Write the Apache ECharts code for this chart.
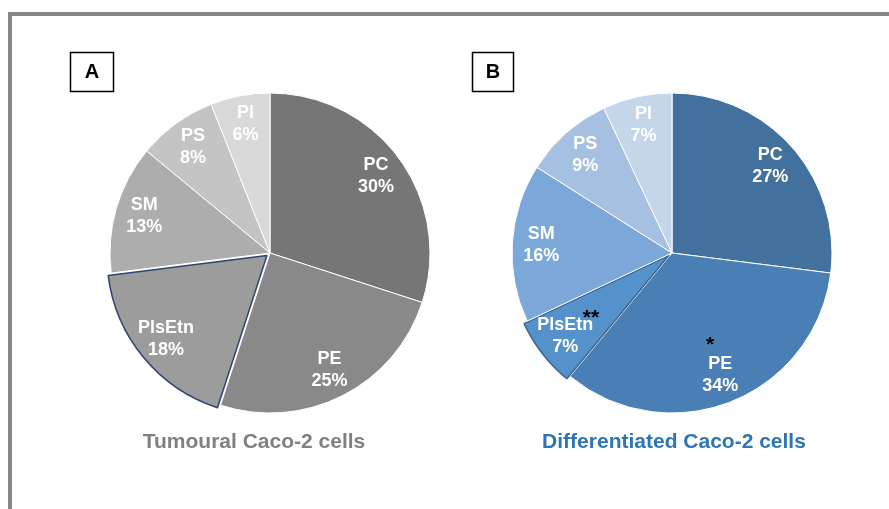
<!DOCTYPE html>
<html><head><meta charset="utf-8">
<script src="https://cdn.jsdelivr.net/npm/echarts@6/dist/echarts.min.js"></script>
<style>html,body{margin:0;padding:0;background:#fff}#c{width:889px;height:509px}</style>
</head><body><div id="c"></div>
<script>
const categories = ['PC', 'PE', 'PlsEtn', 'SM', 'PS', 'PI'];
const tumouralValues = [30, 25, 18, 13, 8, 6];
const differentiatedValues = [27, 34, 7, 16, 9, 7];
const greyColors = ['#767676', '#898989', '#9c9c9c', '#adadad', '#c4c4c4', '#d9d9d9'];
const blueColors = ['#41719c', '#4a7fb5', '#5592cc', '#7ba7d9', '#a6c0e2', '#c5d5ea'];
const panelTitles = ['Tumoural Caco-2 cells', 'Differentiated Caco-2 cells'];
const panelLetters = ['A', 'B'];
const highlighted = 'PlsEtn';

const FONT = '"Liberation Sans", Arial, sans-serif';
const R = 160;
const centers = [[270, 253], [672, 253]];
const outlineColors = ['#2f4470', '#3a6696'];

function baseData(values, colors, outline) {
  return categories.map((name, i) => ({
    name, value: values[i],
    selected: name === highlighted,
    itemStyle: name === highlighted
      ? { color: colors[i], borderColor: outline, borderWidth: 1.5 }
      : { color: colors[i], borderColor: '#ffffff', borderWidth: 1 }
  }));
}
function labelData(values) {
  return categories.map((name, i) => ({ name, value: values[i], selected: name === highlighted }));
}
function pieSeries(values, colors, center, outline) {
  return [{
    type: 'pie', center, radius: [0, R], startAngle: 90, clockwise: true,
    selectedMode: 'single', selectedOffset: 4, animation: false, silent: true,
    label: { show: false }, labelLine: { show: false },
    emphasis: { disabled: true },
    data: baseData(values, colors, outline)
  }, {
    type: 'pie', center, radius: [R * 0.6, R], startAngle: 90, clockwise: true,
    selectedMode: 'single', selectedOffset: 4, animation: false, silent: true,
    itemStyle: { color: 'rgba(0,0,0,0)', borderWidth: 0 },
    emphasis: { disabled: true },
    labelLine: { show: false },
    label: {
      show: true, position: 'inside', color: '#ffffff', fontFamily: FONT,
      fontWeight: 'bold', fontSize: 18, lineHeight: 22,
      formatter: p => p.name + '\n' + p.value + '%'
    },
    data: labelData(values)
  }];
}

const graphics = [
  { type: 'rect', shape: { x: 10, y: 14, width: 900, height: 520 },
    style: { fill: 'none', stroke: '#878787', lineWidth: 4 } },
  { type: 'rect', shape: { x: 70.5, y: 52.5, width: 43, height: 39 },
    style: { fill: '#fff', stroke: '#000', lineWidth: 1.5 } },
  { type: 'text', x: 92, y: 72, style: { text: panelLetters[0], font: 'bold 20px ' + FONT, fill: '#000', align: 'center', verticalAlign: 'middle' } },
  { type: 'rect', shape: { x: 472.5, y: 52.5, width: 41, height: 39 },
    style: { fill: '#fff', stroke: '#000', lineWidth: 1.5 } },
  { type: 'text', x: 493, y: 72, style: { text: panelLetters[1], font: 'bold 20px ' + FONT, fill: '#000', align: 'center', verticalAlign: 'middle' } },
  { type: 'text', x: 254, y: 442, style: { text: panelTitles[0], font: 'bold 21px ' + FONT, fill: '#808080', align: 'center', verticalAlign: 'middle' } },
  { type: 'text', x: 674, y: 442, style: { text: panelTitles[1], font: 'bold 21px ' + FONT, fill: '#2e75b6', align: 'center', verticalAlign: 'middle' } },
  { type: 'text', x: 591, y: 318, z: 100, style: { text: '**', font: 'bold 21px ' + FONT, fill: '#000', align: 'center', verticalAlign: 'middle' } },
  { type: 'text', x: 710, y: 345, z: 100, style: { text: '*', font: 'bold 21px ' + FONT, fill: '#000', align: 'center', verticalAlign: 'middle' } }
];

const chart = echarts.init(document.getElementById('c'), null, { renderer: 'canvas' });
chart.setOption({
  animation: false,
  backgroundColor: '#ffffff',
  graphic: graphics,
  series: [
    ...pieSeries(tumouralValues, greyColors, centers[0], outlineColors[0]),
    ...pieSeries(differentiatedValues, blueColors, centers[1], outlineColors[1])
  ]
});
</script></body></html>
